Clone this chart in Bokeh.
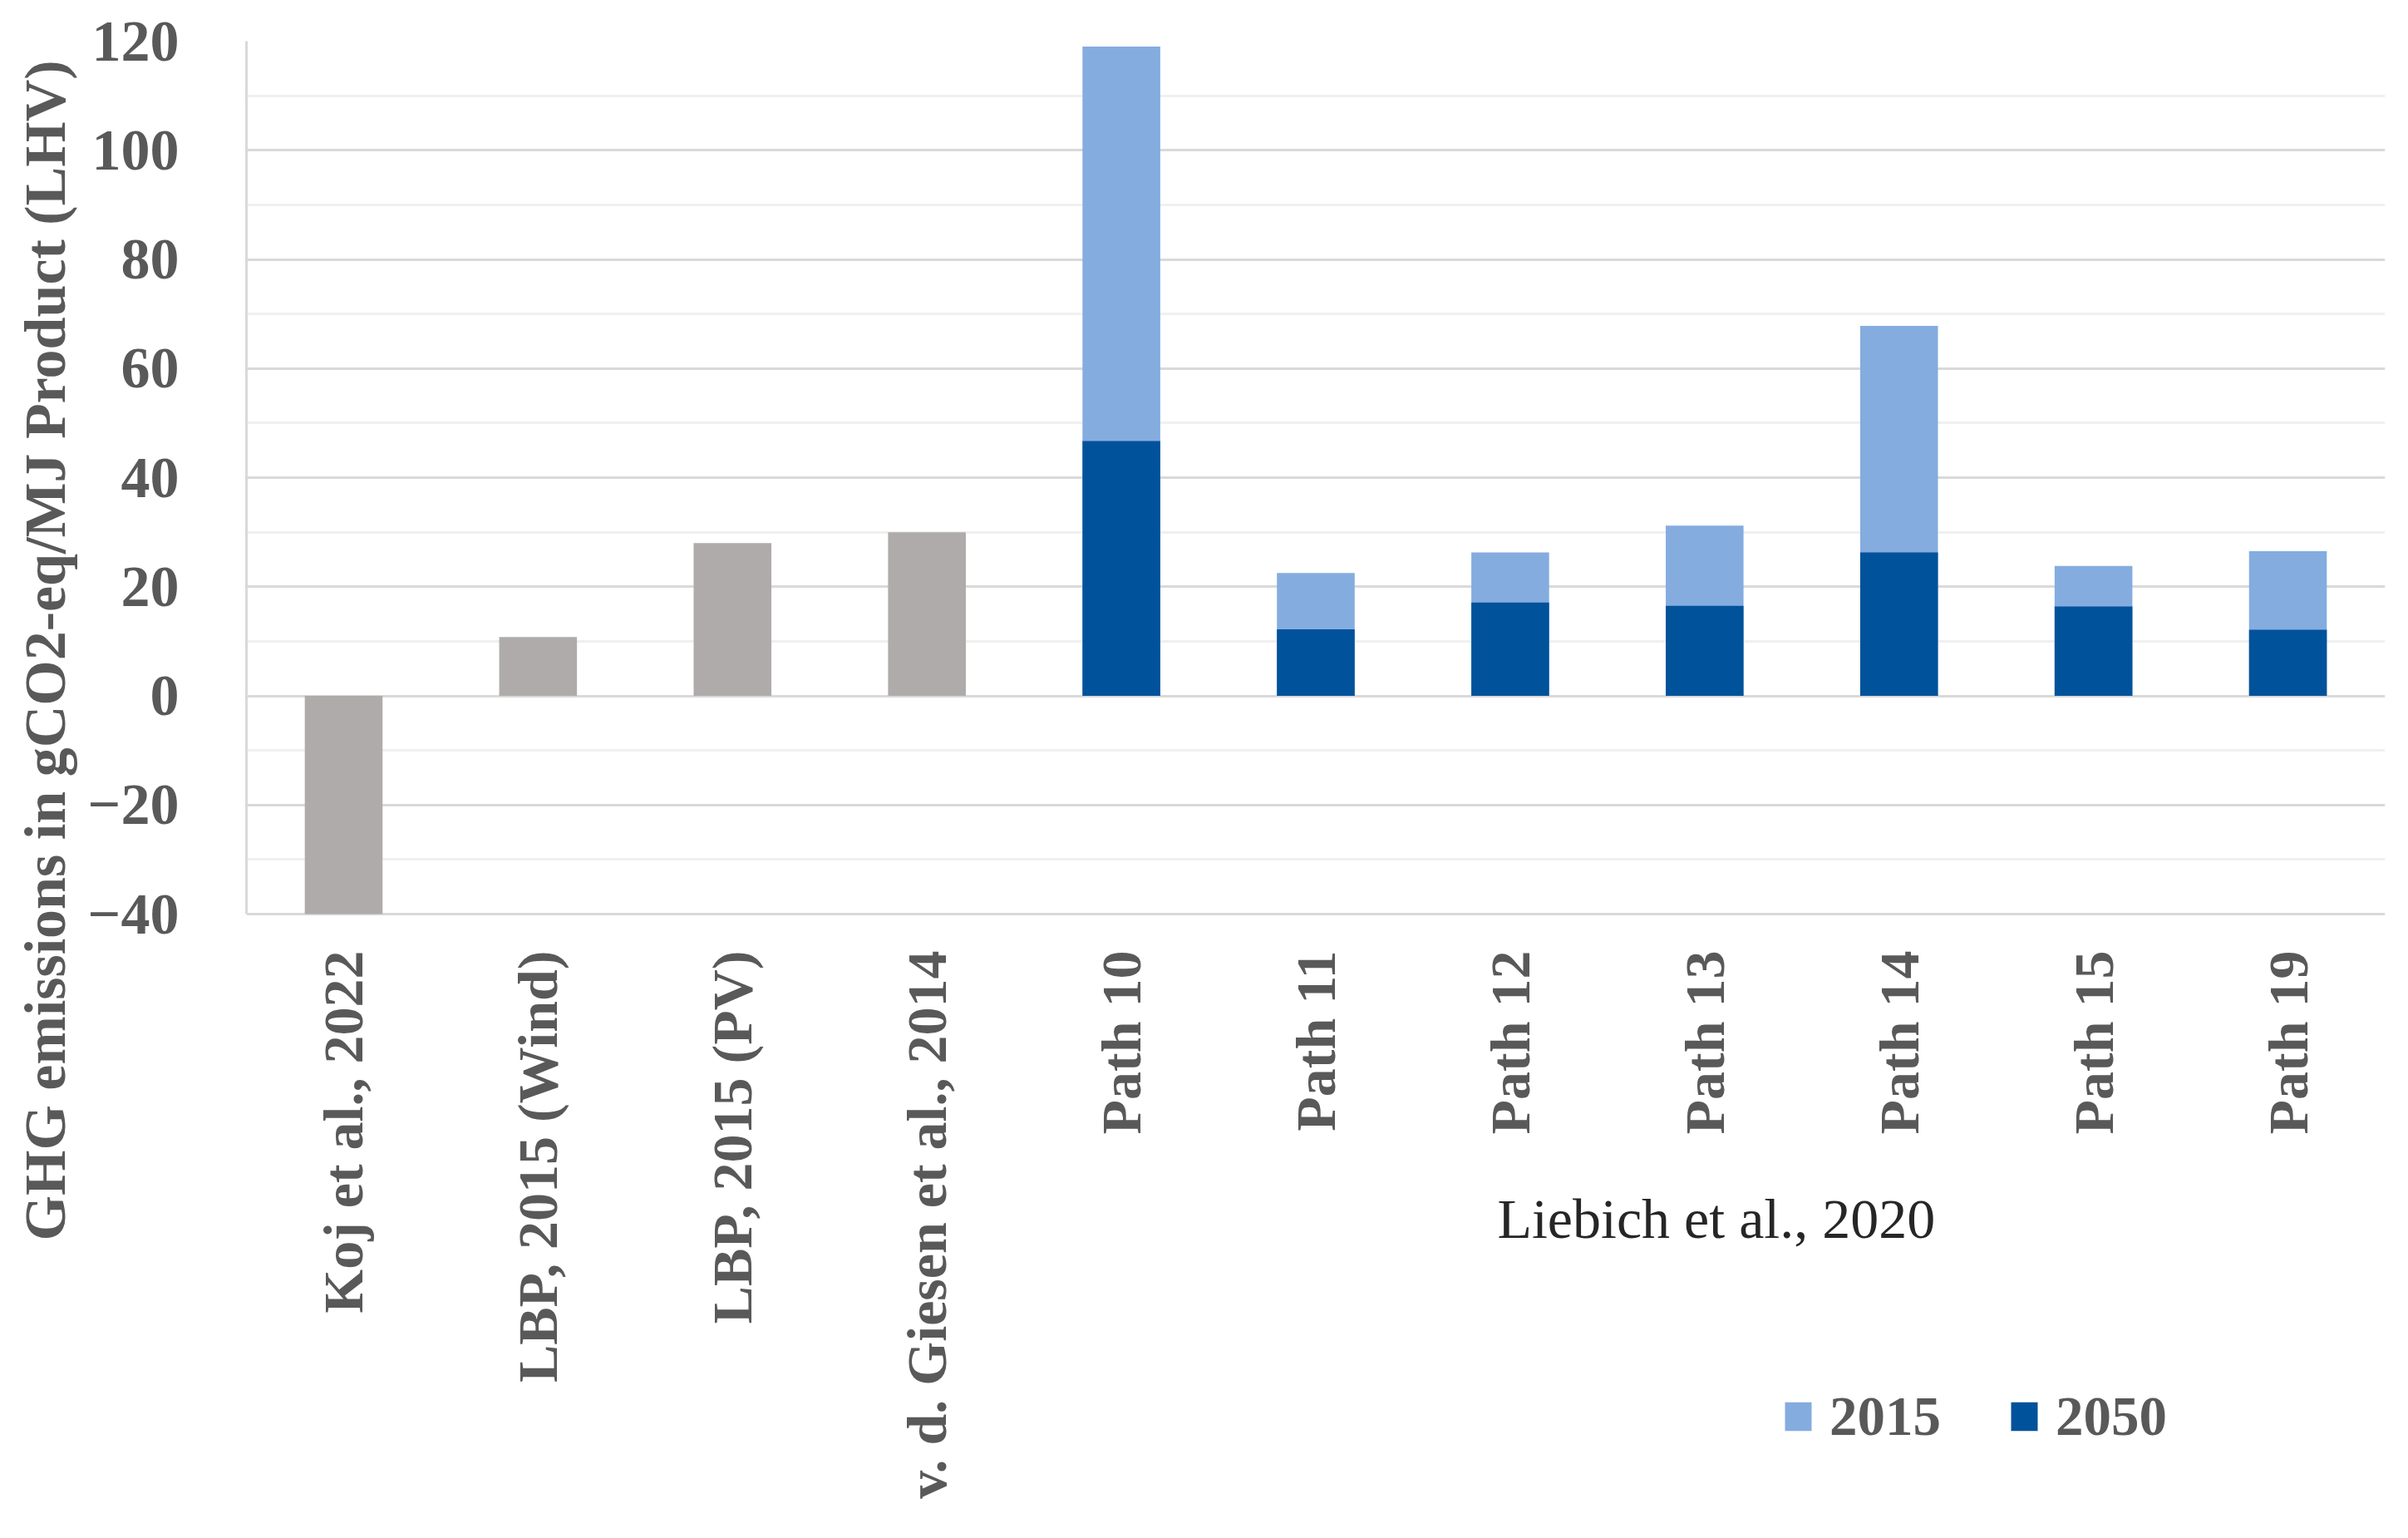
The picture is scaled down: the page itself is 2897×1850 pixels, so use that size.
import math
from bokeh.plotting import figure
from bokeh.models import FactorRange, Range1d, FixedTicker, Legend, LegendItem, Label, Title
from bokeh.core.properties import value
from bokeh.embed import file_html
from bokeh.resources import INLINE

# ---- data ----
categories = ["Koj et al., 2022", "LBP, 2015 (Wind)", "LBP, 2015 (PV)",
              "v. d. Giesen et al., 2014", "Path 10", "Path 11", "Path 12",
              "Path 13", "Path 14", "Path 15", "Path 19"]
lit_categories = ["Koj et al., 2022", "LBP, 2015 (Wind)", "LBP, 2015 (PV)",
                  "v. d. Giesen et al., 2014"]
lit_values = [-40, 10.8, 28, 30]
path_categories = ["Path 10", "Path 11", "Path 12", "Path 13", "Path 14", "Path 15", "Path 19"]
values_2015 = [119, 22.5, 26.3, 31.2, 67.8, 23.8, 26.5]
values_2050 = [46.7, 12.2, 17.1, 16.5, 26.3, 16.4, 12.1]
y_ticks = [-40, -20, 0, 20, 40, 60, 80, 100, 120]
y_minor = [-30, -10, 10, 30, 50, 70, 90, 110]
group_label = "Liebich et al., 2020"
y_title = "GHG emissions in gCO2-eq/MJ Product (LHV)"

GRAY = "#AFABAB"
LIGHT = "#84ACDF"
DARK = "#00529B"
TXT = "#595959"
FONT = "Liberation Serif"

W, H = 2880, 1834
TOP, LEFT, RIGHT = 49, 296, 11
PLOT_H = 1050                      # pixel height of the -40..120 value band
y_lo, y_hi = y_ticks[0], y_ticks[-1]
ppu = PLOT_H / (y_hi - y_lo)
frame_h = H - TOP
y_start = y_hi - frame_h / ppu     # frame extends below the value band for labels

p = figure(width=W, height=H, output_backend="svg", toolbar_location=None,
           x_range=FactorRange(*categories, range_padding=0),
           y_range=Range1d(y_start, y_hi), x_axis_location=None)
p.min_border_left = LEFT
p.min_border_right = RIGHT
p.min_border_top = TOP
p.min_border_bottom = 0
p.outline_line_color = None
p.background_fill_color = "white"
for g in p.grid:
    if g.dimension == 0:
        g.visible = False

BW = 0.40
p.vbar(x=lit_categories, top=lit_values, width=BW, fill_color=GRAY, line_color=None)
r15 = p.vbar(x=path_categories, top=values_2015, width=BW, fill_color=LIGHT, line_color=None)
r50 = p.vbar(x=path_categories, top=values_2050, width=BW, fill_color=DARK, line_color=None)

# y axis + grid
ya = p.yaxis[0]
ya.ticker = FixedTicker(ticks=y_ticks, minor_ticks=y_minor)
ya.bounds = (y_lo, y_hi)
ya.axis_line_color = "#D9D9D9"
ya.axis_line_width = 3
ya.major_tick_line_color = None
ya.minor_tick_line_color = None
ya.major_label_text_font = FONT
ya.major_label_text_font_style = "bold"
ya.major_label_text_font_size = "70px"
ya.major_label_text_color = TXT
ya.major_label_standoff = 75
ya.major_label_overrides = {-40: "\u221240", -20: "\u221220"}

p.ygrid.grid_line_color = "#D9D9D9"
p.ygrid.grid_line_width = 3
p.ygrid.minor_grid_line_color = "#F0F0F0"
p.ygrid.minor_grid_line_width = 3
p.ygrid.bounds = (y_lo, y_hi)

# y axis title (placed in left panel, offset from the frame bottom like the reference)
p.add_layout(Title(text=y_title, align="left", offset=342, standoff=20,
                   text_font=FONT, text_font_style="bold", text_font_size="70px",
                   text_color=TXT), "left")

# category labels, vertical, under the value band
p.text(x=categories, y=[y_lo] * len(categories), text=categories, angle=math.pi / 2,
       y_offset=44, text_align="right", text_baseline="middle",
       text_font=value(FONT), text_font_style="bold", text_font_size="68px",
       text_color=TXT)

# group label under the Path bars
first = categories.index(path_categories[0])
last = categories.index(path_categories[-1])
p.add_layout(Label(x=(first + last + 1) / 2, y=369, y_units="screen", x_offset=14,
                   text=group_label, text_align="center", text_baseline="middle",
                   text_font=FONT, text_font_size="68px", text_color="#262626"))

legend = Legend(items=[LegendItem(label="2015", renderers=[r15]),
                       LegendItem(label="2050", renderers=[r50])],
                orientation="horizontal", location=(1847, 92),
                glyph_width=40, glyph_height=43, label_standoff=18, spacing=80,
                padding=0, margin=0, border_line_color=None,
                background_fill_alpha=0,
                label_text_font=FONT, label_text_font_style="bold",
                label_text_font_size="67px", label_text_color=TXT)
p.add_layout(legend, "center")

open("out.html", "w").write(file_html(p, INLINE))
